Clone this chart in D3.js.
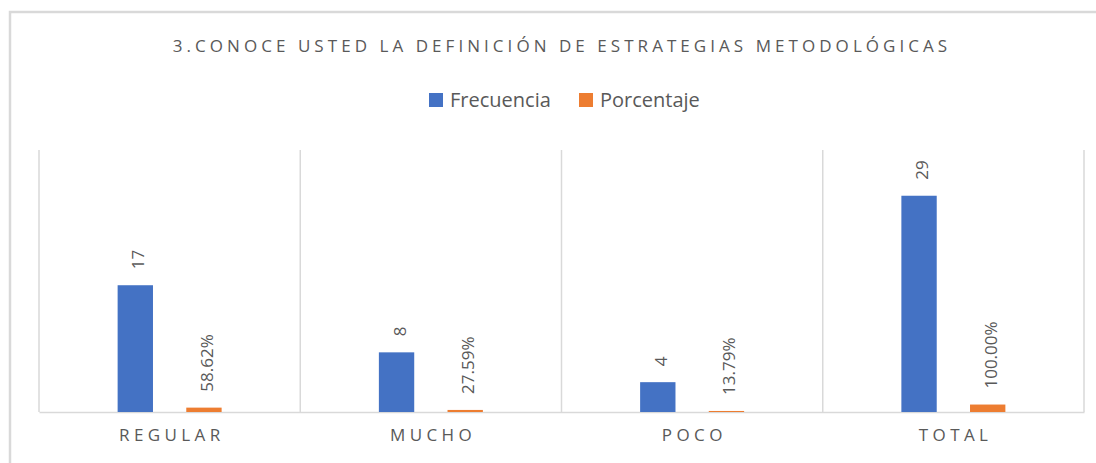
<!DOCTYPE html>
<html>
<head>
<meta charset="utf-8">
<script src="https://cdn.jsdelivr.net/npm/d3@7"></script>
<style>
  body { margin: 0; background: #fff; }
  svg { display: block; font-family: "Open Sans", sans-serif; }
</style>
</head>
<body>
<div id="chart"></div>
<script>
// chart data
const categories = ["REGULAR", "MUCHO", "POCO", "TOTAL"];
const seriesNames = ["Frecuencia", "Porcentaje"];
const frecuencia = [17, 8, 4, 29];
const porcentaje = [0.5862, 0.2759, 0.1379, 1.0];
const percentLabels = ["58.62%", "27.59%", "13.79%", "100.00%"];
const colors = ["#4472C4", "#ED7D31"];

let width = 1096;
let height = 463;

// plot area
let plotLeft = 39, plotRight = 1084, plotTop = 151, plotBottom = 412;

let svg = d3.select("#chart")
  .append("svg")
  .attr("width", width)
  .attr("height", height);

// outer frame (cropped at right and bottom)
svg.append("rect")
  .attr("x", 10)
  .attr("y", 12)
  .attr("width", 1100)
  .attr("height", 470)
  .attr("fill", "none")
  .attr("stroke", "#d9d9d9")
  .attr("stroke-width", 2.5);

// title
svg.append("text")
  .attr("x", 562)
  .attr("y", 52)
  .attr("text-anchor", "middle")
  .attr("font-size", 17)
  .attr("letter-spacing", 4.05)
  .attr("fill", "#595959")
  .text("3.CONOCE USTED LA DEFINICIÓN DE ESTRATEGIAS METODOLÓGICAS");

// legend
let legend = svg.append("g").attr("class", "legend");
let legendX = [429, 579];
seriesNames.forEach(function(name, i) {
  legend.append("rect")
    .attr("x", legendX[i])
    .attr("y", 93)
    .attr("width", 14)
    .attr("height", 14)
    .attr("fill", colors[i]);
  legend.append("text")
    .attr("x", legendX[i] + 21)
    .attr("y", 107)
    .attr("font-size", 20)
    .attr("fill", "#595959")
    .text(name);
});

// scales
let x0 = d3.scaleBand()
  .domain(categories)
  .range([plotLeft, plotRight])
  .padding(0);

let bw = x0.bandwidth();
let x1 = d3.scaleBand()
  .domain(seriesNames)
  .range([bw / 2 - 52, bw / 2 + 52])
  .paddingInner(0.485)
  .paddingOuter(0);

let y = d3.scaleLinear()
  .domain([0, 35])
  .range([plotBottom, plotTop]);

// vertical category separators
let seps = categories.map(function(c) { return x0(c); }).concat([plotRight]);
svg.append("g")
  .selectAll("line")
  .data(seps)
  .enter()
  .append("line")
  .attr("x1", function(d) { return d; })
  .attr("x2", function(d) { return d; })
  .attr("y1", plotTop - 1)
  .attr("y2", plotBottom)
  .attr("stroke", "#d9d9d9")
  .attr("stroke-width", 1.5);

// x axis
let xAxis = d3.axisBottom(x0).tickSize(0).tickPadding(17);
let gx = svg.append("g")
  .attr("transform", "translate(0," + plotBottom + ")")
  .call(xAxis);
gx.select(".domain").attr("stroke", "#d9d9d9").attr("stroke-width", 1.5);
gx.selectAll("text")
  .attr("font-size", 17)
  .attr("font-family", "Open Sans, sans-serif")
  .attr("letter-spacing", 4.4)
  .attr("dx", 2.2)
  .attr("fill", "#595959");

// bars
let rows = categories.map(function(c, i) {
  return [
    { cat: c, series: "Frecuencia", value: frecuencia[i], label: String(frecuencia[i]), color: colors[0] },
    { cat: c, series: "Porcentaje", value: porcentaje[i], label: percentLabels[i], color: colors[1] }
  ];
});

let groups = svg.selectAll(".cat")
  .data(rows)
  .enter()
  .append("g")
  .attr("class", "cat")
  .attr("transform", function(d) { return "translate(" + x0(d[0].cat) + ",0)"; });

groups.selectAll("rect")
  .data(function(d) { return d; })
  .enter()
  .append("rect")
  .attr("x", function(d) { return x1(d.series); })
  .attr("y", function(d) { return y(d.value); })
  .attr("width", x1.bandwidth())
  .attr("height", function(d) { return plotBottom - y(d.value); })
  .attr("fill", function(d) { return d.color; });

// rotated value labels
groups.selectAll(".val")
  .data(function(d) { return d; })
  .enter()
  .append("text")
  .attr("class", "val")
  .attr("transform", function(d) {
    let cx = x1(d.series) + x1.bandwidth() / 2 + 3;
    let cy = y(d.value) - 16;
    return "translate(" + cx + "," + cy + ")rotate(-90)";
  })
  .attr("dy", "0.35em")
  .attr("font-size", 17)
  .attr("fill", "#595959")
  .text(function(d) { return d.label; });
</script>
</body>
</html>
